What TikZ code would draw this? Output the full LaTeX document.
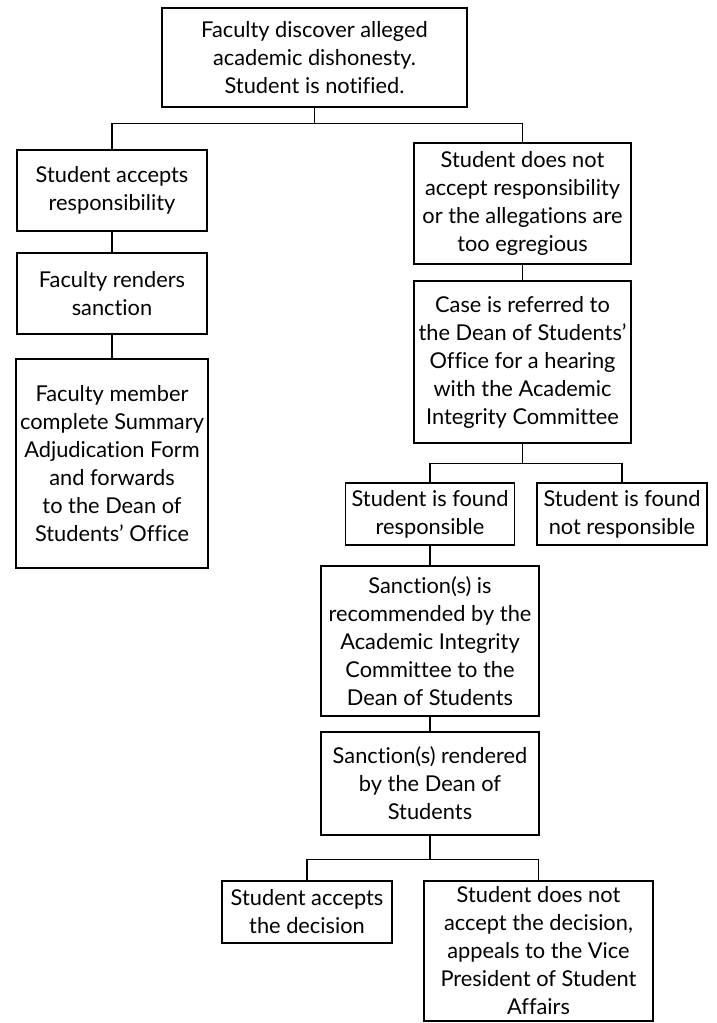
\documentclass[tikz,border=0pt]{standalone}
\usepackage{fontspec}
\setmainfont{Lato}[Ligatures=NoCommon]

\begin{document}
\begin{tikzpicture}[
			x=0.5pt, y=-0.5pt,
			stepbox/.style={
				draw=black,
				line width=0.7pt,
				fill=white,
				align=center,
				inner sep=2pt,
				font=\fontsize{10.9}{14}\selectfont
			},
			treeline/.style={
				draw=black,
				line width=0.7pt
			}
			]
			
			\useasboundingbox (0,0) rectangle (717,1023);
			
			\node[stepbox,minimum width=152.5pt,minimum height=49.5pt] (discover) at (314.5,57.5) {
				Faculty discover alleged\\
				academic dishonesty.\\
				Student is notified.
			};
			
			% left branch
			\node[stepbox,minimum width=95pt,minimum height=40.5pt] (accepts) at (112,190.5) {
				Student accepts\\
				responsibility
			};
			
			\node[stepbox,minimum width=95pt,minimum height=40.5pt] (renders) at (112,293.5) {
				Faculty renders\\
				sanction
			};
			
			\node[stepbox,minimum width=95pt,minimum height=104.5pt] (summary) at (112,463.5) {
				Faculty member\\
				complete Summary\\
				Adjudication Form\\
				and forwards\\
				to the Dean of\\
				Students’ Office
			};
			
			% right branch
			\node[stepbox,minimum width=108.5pt,minimum height=60.5pt] (rejects) at (522.5,203.5) {
				Student does not\\
				accept responsibility\\
				or the allegations are\\
				too egregious
			};
			
			\node[stepbox,minimum width=108.5pt,minimum height=81pt] (referred) at (522.5,362) {
				Case is referred to\\
				the Dean of Students’\\
				Office for a hearing\\
				with the Academic\\
				Integrity Committee
			};
			
			\node[stepbox,minimum width=84.5pt,minimum height=31pt] (found) at (430,514) {
				Student is found\\
				responsible
			};
			
			\node[stepbox,minimum width=85pt,minimum height=31pt] (notfound) at (622,514) {
				Student is found\\
				not responsible
			};
			
			\node[stepbox,minimum width=109pt,minimum height=75pt] (recommended) at (430,641) {
				Sanction(s) is\\
				recommended by the\\
				Academic Integrity\\
				Committee to the\\
				Dean of Students
			};
			
			\node[stepbox,minimum width=109pt,minimum height=51.5pt] (rendered) at (430,783.5) {
				Sanction(s) rendered\\
				by the Dean of\\
				Students
			};
			
			\node[stepbox,minimum width=85pt,minimum height=31pt] (decision) at (307,912) {
				Student accepts\\
				the decision
			};
			
			\node[stepbox,minimum width=114.5pt,minimum height=70pt] (appeal) at (538.5,951) {
				Student does not\\
				accept the decision,\\
				appeals to the Vice\\
				President of Student\\
				Affairs
			};
			
			\draw[treeline] (discover.south) -- ++(0,16) -| (accepts.north);
			\draw[treeline] (discover.south) -- ++(0,16) -| (rejects.north);
			\draw[treeline] (accepts.south) -- (renders.north);
			\draw[treeline] (renders.south) -- (summary.north);
			\draw[treeline] (rejects.south) -- (referred.north);
			\draw[treeline] (referred.south) -- ++(0,20) -| (found.north);
			\draw[treeline] (referred.south) -- ++(0,20) -| (notfound.north);
			\draw[treeline] (found.south) -- (recommended.north);
			\draw[treeline] (recommended.south) -- (rendered.north);
			\draw[treeline] (rendered.south) -- ++(0,24) -| (decision.north);
			\draw[treeline] (rendered.south) -- ++(0,24) -| (appeal.north);
			
		\end{tikzpicture}
\end{document}
